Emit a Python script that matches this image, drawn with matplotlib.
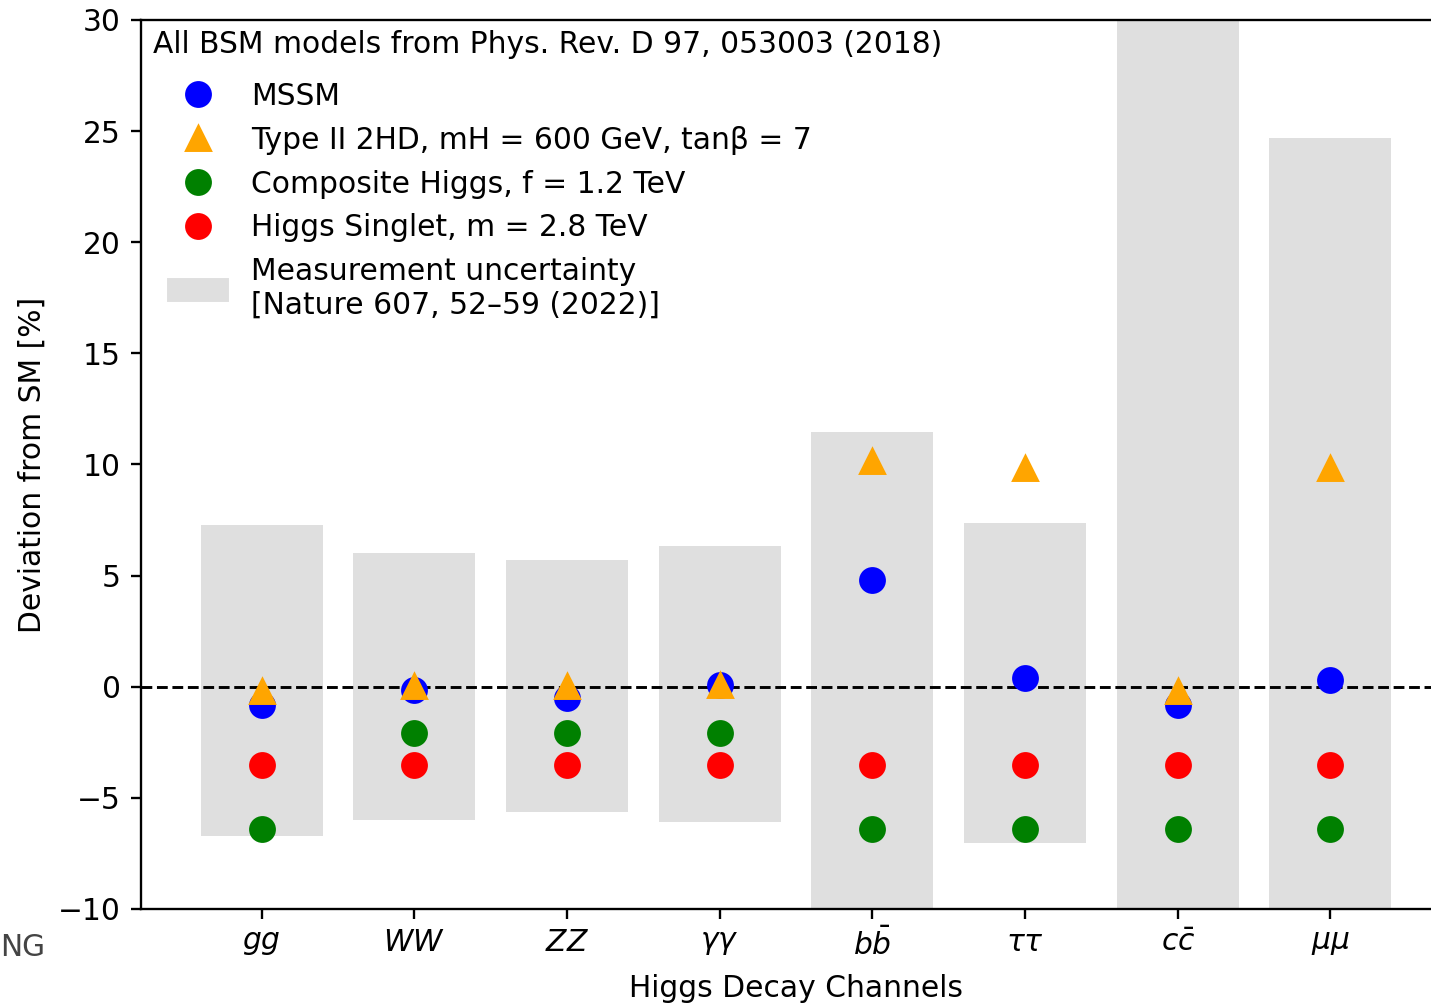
import matplotlib
matplotlib.use("Agg")
import matplotlib.pyplot as plt
from matplotlib.patches import Patch
from matplotlib.lines import Line2D
import numpy as np

channels = [r"$gg$", r"$WW$", r"$ZZ$", r"$\gamma\gamma$", r"$b\bar{b}$",
            r"$\tau\tau$", r"$c\bar{c}$", r"$\mu\mu$"]
unc_up = [7.3, 6.0, 5.7, 6.35, 11.45, 7.35, 40.0, 24.7]
unc_down = [-6.7, -6.0, -5.65, -6.1, -15.0, -7.05, -15.0, -15.0]
mssm = [-0.8, -0.15, -0.5, 0.1, 4.8, 0.4, -0.8, 0.3]
thdm = [-0.18, 0.05, 0.02, 0.07, 10.15, 9.85, -0.17, 9.85]
composite = [-6.4, -2.1, -2.1, -2.1, -6.4, -6.4, -6.4, -6.4]
singlet = [-3.5, -3.5, -3.5, -3.5, -3.5, -3.5, -3.5, -3.5]

DPI = 210
plt.rcParams['font.size'] = 10.2
fig = plt.figure(figsize=(1431/DPI, 1003/DPI), dpi=DPI)
ax = fig.add_axes([141/1431, 1-909/1003, (1451-141)/1431, (909-20)/1003])

x = np.arange(len(channels))
ax.bar(x, np.array(unc_up) - np.array(unc_down), bottom=unc_down, width=0.8,
       color='#dfdfdf', zorder=1)
ax.axhline(0, color='black', ls='--', lw=1.0, zorder=2)
ms = 8.2
ax.plot(x, mssm, 'o', color='blue', ms=ms, ls='none', zorder=3)
ax.plot(x, thdm, '^', color='orange', ms=ms, ls='none', zorder=3)
ax.plot(x, composite, 'o', color='green', ms=ms, ls='none', zorder=3)
ax.plot(x, singlet, 'o', color='red', ms=ms, ls='none', zorder=3)

ax.set_xlim(-0.79, 7.79)
ax.set_ylim(-10, 30)
ax.set_yticks(np.arange(-10, 31, 5))
ax.set_xticks(x)
ax.set_xticklabels(channels)
ax.tick_params(axis='x', pad=3.0)
ax.set_xlabel("Higgs Decay Channels", labelpad=4.3)
ax.set_ylabel("Deviation from SM [%]", labelpad=3.8)

ax.text(12/1310, 1-(53-20)/889, "All BSM models from Phys. Rev. D 97, 053003 (2018)",
        transform=ax.transAxes, ha='left', va='baseline')

handles = [
    Line2D([], [], marker='o', color='blue', ls='none', ms=ms),
    Line2D([], [], marker='^', color='orange', ls='none', ms=ms),
    Line2D([], [], marker='o', color='green', ls='none', ms=ms),
    Line2D([], [], marker='o', color='red', ls='none', ms=ms),
    Patch(color='#dfdfdf'),
]
labels = ["MSSM", "Type II 2HD, mH = 600 GeV, tan\u03b2 = 7",
          "Composite Higgs, f = 1.2 TeV", "Higgs Singlet, m = 2.8 TeV",
          "Measurement uncertainty\n[Nature 607, 52\u201359 (2022)]"]
leg = ax.legend(handles, labels, loc='upper left', frameon=False,
                bbox_to_anchor=(0.0, 1-35/889))

fig.text(0.5/1431, 1-948/1003, "NG", ha='left', va='center', color='#444444')

fig.savefig("out.png", dpi=DPI)
